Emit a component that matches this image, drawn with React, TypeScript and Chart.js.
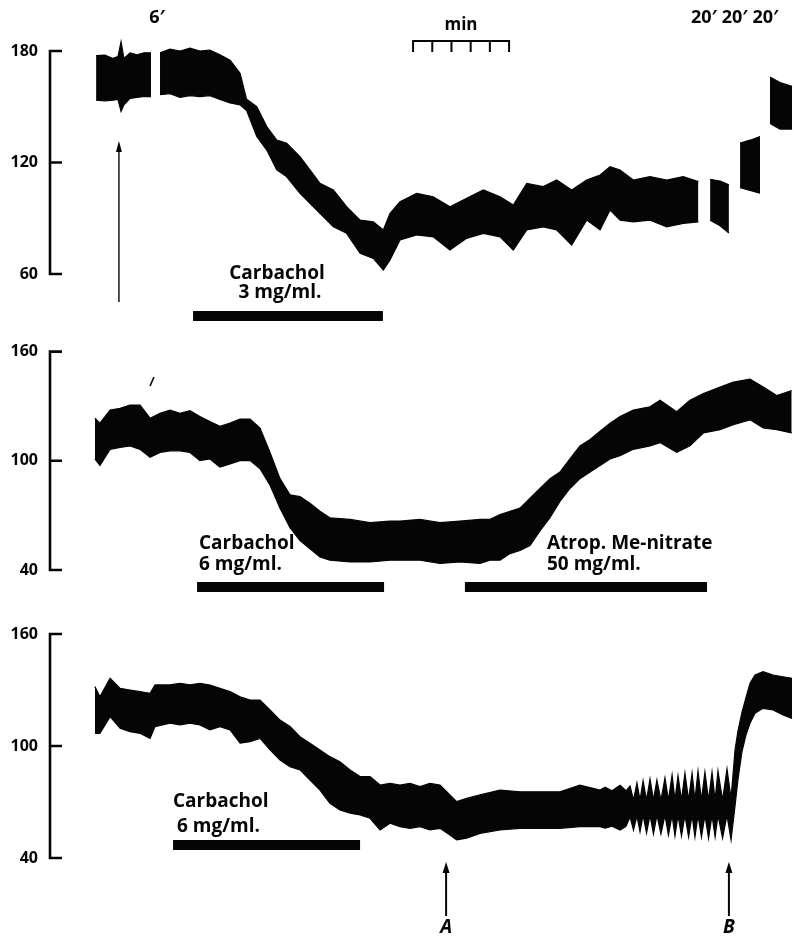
import React, { useEffect, useRef } from "react";
import { Chart, registerables } from "chart.js";

Chart.register(...registerables);

// ---------- time axis (minutes) ----------
const X_MIN = 0;
const X_MAX = 38.75;

// ---------- Panel 1 (null = pen lifted / gap in record) ----------
const P1_TIME = [
  2.4, 2.86, 3.28, 3.54, 3.7, 3.85, 4.17, 4.53, 4.9, 5.26, null,
  5.73, 6.25, 6.77, 7.29, 7.81, 8.33, 8.85, 9.38, 9.9, 10.24, 10.77, 11.29, 11.81, 12.33, 13.02,
  13.54, 14.06, 14.76, 15.45, 16.15, 16.84, 17.36, 17.71, 18.23, 19.1, 19.96, 20.83, 21.7, 22.57,
  23.44, 24.13, 24.83, 25.69, 26.39, 27.17, 27.95, 28.65, 29.17, 29.69, 30.38, 31.25, 32.12, 32.98,
  33.77, null,
  34.38, 34.9, 35.36, null,
  35.94, 36.46, 36.98, null,
  37.5, 38.02, 38.65,
];
const P1_TOP = [
  177.5, 177.8, 176, 177, 185, 176, 179, 178, 179, 179, null,
  179, 181, 180, 181.5, 180, 180.5, 178, 175, 168, 154, 150, 139.3, 132.1, 130.3, 123.1,
  116, 108.8, 105.2, 96.2, 89, 88.1, 83.7, 92.6, 98.9, 103.4, 101.6, 96.2, 100.7, 105.2,
  101.6, 97.1, 108.8, 107, 110.6, 105.2, 110.6, 113.3, 117.7, 116, 110.6, 112.4, 110.6, 112.4,
  109.7, null,
  111, 110, 108, null,
  130.5, 132, 134, null,
  166, 163, 161,
];
const P1_BOTTOM = [
  153.5, 153.2, 153.5, 154, 147.5, 151, 154.5, 155, 155.5, 155.5, null,
  156.5, 157, 155, 156, 155.5, 156, 154, 152, 151, 148, 134, 126.7, 116, 112.3, 103.4,
  98, 92.6, 85.4, 81.9, 71.1, 68.4, 62.1, 67.5, 78.3, 81, 80, 72.9, 79.2, 81.9,
  80, 72.9, 83.7, 85.4, 83.7, 75.6, 89, 83.7, 94.4, 89, 88.1, 89, 85.4, 87.2,
  88.1, null,
  89, 86, 82, null,
  106.5, 105, 103.5, null,
  141, 138, 138,
];
const P1_TICKS = [60, 120, 180];
const P1_DRUG = [7.45, 17.34];
const P1_ARROW = 3.59;
const MIN_BAR = [18.91, 19.91, 20.91, 21.91, 22.91, 23.91];

// ---------- Panel 2 ----------
const P2_TIME = [
  2.34, 2.6, 3.13, 3.65, 4.17, 4.69, 5.21, 5.73, 6.25, 6.77, 7.29, 7.81, 8.33, 8.85, 9.38, 9.9,
  10.42, 10.94, 11.46, 11.98, 12.5, 13.02, 13.54, 14.06, 14.58, 15.63, 16.67, 17.71, 18.23, 19.27,
  20.31, 21.35, 22.4, 22.92, 23.44, 23.96, 24.48, 25.0, 25.52, 26.04, 26.56, 27.08, 27.6, 28.13,
  28.65, 29.17, 29.69, 30.38, 31.25, 31.77, 32.64, 33.33, 34.03, 34.9, 35.59, 36.46, 37.15, 37.85,
  38.63,
];
const P2_TOP = [
  123.4, 120.7, 127.9, 128.8, 130.6, 130.6, 123.4, 126.1, 127.9, 126.1, 127.5, 124.3, 121.6, 118.9, 120.7, 122.9,
  122.9, 118, 104.6, 90.2, 81.3, 80.3, 76.7, 72.3, 68.7, 67.8, 66, 66.9, 66.9, 67.8,
  66, 66.9, 67.8, 67.8, 70.5, 72.3, 74, 79.4, 84.8, 90.2, 93.8, 101, 108.2, 111.7,
  116.2, 120.7, 124.3, 127.9, 129.7, 133.3, 127, 133.3, 136.9, 140.5, 143.2, 144.9, 140.5, 135.9,
  138.6,
];
const P2_BOTTOM = [
  101, 97.4, 106.3, 107.3, 108.2, 106.3, 101.9, 104.6, 105.5, 105.5, 104.6, 100.1, 101, 96.5, 98.3, 100.1,
  100.1, 95.6, 86.6, 74, 63.3, 56.1, 51.7, 47.1, 45.4, 44.4, 44.4, 45.4, 45.4, 45.4,
  43.6, 44.4, 43.6, 45.4, 45.4, 49, 50.7, 53.4, 61.5, 68.7, 77.7, 84.8, 90.2, 93.8,
  97.4, 101, 102.8, 106.3, 108.2, 110, 104.6, 108.2, 115.3, 117.1, 119.8, 122.5, 118, 117.1,
  115.3,
];
const P2_TICKS = [40, 100, 160];
const P2_CARBACHOL = [7.66, 17.4];
const P2_ATROPINE = [21.61, 34.22];

// ---------- Panel 3 ----------
const P3_TIME = [
  2.34, 2.6, 3.13, 3.65, 4.17, 4.69, 5.21, 5.47, 6.25, 6.77, 7.29, 7.81, 8.33, 8.85, 9.38, 9.9,
  10.42, 10.94, 11.46, 11.98, 12.5, 13.02, 13.54, 14.06, 14.58, 15.1, 15.63, 16.15, 16.67, 17.19,
  17.71, 18.23, 18.75, 19.27, 19.79, 20.31, 20.83, 21.18, 21.7, 22.4, 23.44, 24.48, 25.52, 26.56,
  27.6, 28.65, 28.91, 29.27, 29.69, 30.0,
  30.21, 30.39, 30.57, 30.73, 30.89, 31.07, 31.25, 31.43, 31.61, 31.82, 32.03, 32.21, 32.4, 32.55,
  32.71, 32.89, 33.07, 33.26, 33.44, 33.59, 33.75, 33.93, 34.11, 34.3, 34.48, 34.64, 34.79, 35.03,
  35.26, 35.47, 35.68, 35.83, 36.04, 36.25, 36.46, 36.72, 37.14, 37.66, 38.18, 38.65,
];
const P3_TOP = [
  131.8, 126.4, 136.3, 130.9, 130, 129.1, 128.2, 132.7, 132.7, 133.6, 132.7, 133.6, 132.7, 130.9, 129.1, 126.4,
  124.6, 124.6, 119.3, 113.9, 110.4, 105, 101.5, 97.9, 94.3, 91.6, 87.2, 83.6, 83.6, 79.1,
  80, 79.1, 80, 78.2, 80, 79.1, 73.8, 70.2, 72, 73.8, 76.4, 75.5, 75.5, 75.5,
  79.1, 76.4, 78, 76, 79, 76,
  78.6, 71, 80.2, 71, 81.3, 71, 82.3, 71, 81.8, 71, 82.9, 71, 84.5, 71,
  84, 71, 85.5, 71, 85.5, 71, 86.6, 71, 86, 71, 86, 71, 86.6, 71,
  87.7, 72, 98, 108, 118, 126, 133.6, 138, 139.8, 138, 137.1, 136.3,
];
const P3_BOTTOM = [
  106.8, 106.8, 115.7, 109.5, 107.7, 106.8, 104.1, 110.4, 112.2, 111.3, 112.2, 111.3, 108.6, 110.4, 108.6, 101.5,
  102.3, 104.1, 97.9, 92.5, 88.9, 87.2, 81.8, 76.4, 69.3, 65.7, 64, 63.1, 61.3, 55,
  58.6, 56.8, 55.9, 56.8, 55, 55.9, 52.3, 49.7, 50.6, 53.2, 55, 55.9, 55.9, 55.9,
  56.8, 56.8, 56, 57, 55, 57,
  62, 55, 62.5, 54, 63, 53.4, 63, 52.9, 63, 52.9, 63, 52.3, 63, 51.8,
  63, 51.8, 63, 51.2, 63, 51.2, 63, 51.2, 63, 50.6, 63, 51.2, 63, 50.6,
  63, 49.7, 68, 82, 97, 106, 112.2, 117.5, 120.2, 119.3, 116.6, 114.8,
];
const P3_TICKS = [40, 100, 160];
const P3_CARBACHOL = [6.41, 16.15];
const P3_ARROWS = [20.63, 35.36];
const P3_ARROW_LABELS = ["A", "B"];

// ---------- drawing helpers ----------
const FONT = '"Open Sans", "DejaVu Sans", sans-serif';
const INK = "#050505";

function splitSegments(t: (number | null)[], top: (number | null)[], bot: (number | null)[]) {
  const segs: { top: { x: number; y: number }[]; bot: { x: number; y: number }[] }[] = [];
  let cur = { top: [] as { x: number; y: number }[], bot: [] as { x: number; y: number }[] };
  for (let i = 0; i < t.length; i++) {
    if (t[i] === null) {
      if (cur.top.length) segs.push(cur);
      cur = { top: [], bot: [] };
      continue;
    }
    cur.top.push({ x: t[i] as number, y: top[i] as number });
    cur.bot.push({ x: t[i] as number, y: bot[i] as number });
  }
  if (cur.top.length) segs.push(cur);
  return segs;
}

function buildDatasets(t: (number | null)[], top: (number | null)[], bot: (number | null)[]) {
  const style = {
    borderColor: INK,
    backgroundColor: INK,
    borderWidth: 1.2,
    pointRadius: 0,
    tension: 0,
    clip: false as any,
  };
  const ds: any[] = [];
  splitSegments(t, top, bot).forEach((s) => {
    ds.push({ ...style, data: s.top, fill: "+1" });
    ds.push({ ...style, data: s.bot, fill: false });
  });
  return ds;
}

function text(ctx: CanvasRenderingContext2D, s: string, x: number, y: number, align: CanvasTextAlign, size: number, italic = false) {
  ctx.save();
  ctx.fillStyle = INK;
  ctx.font = `${italic ? "italic " : ""}bold ${size}px ${FONT}`;
  ctx.textAlign = align;
  ctx.textBaseline = "middle";
  ctx.fillText(s, x, y);
  ctx.restore();
}

function bar(ctx: CanvasRenderingContext2D, x0: number, x1: number, yc: number, h: number) {
  ctx.save();
  ctx.fillStyle = INK;
  ctx.fillRect(x0, yc - h / 2, x1 - x0, h);
  ctx.restore();
}

function arrow(ctx: CanvasRenderingContext2D, x: number, yTip: number, yEnd: number, w: number, lw: number) {
  ctx.save();
  ctx.strokeStyle = INK;
  ctx.fillStyle = INK;
  ctx.lineWidth = lw;
  ctx.beginPath();
  ctx.moveTo(x, yEnd);
  ctx.lineTo(x, yTip + 8);
  ctx.stroke();
  ctx.beginPath();
  ctx.moveTo(x, yTip);
  ctx.lineTo(x - w / 2, yTip + 11);
  ctx.lineTo(x + w / 2, yTip + 11);
  ctx.closePath();
  ctx.fill();
  ctx.restore();
}

type PanelCfg = {
  top: number;
  height: number;
  axisTop: number; // pixel of the highest tick inside the canvas
  padBottom: number;
  yMin: number;
  yMax: number;
  headroom: number; // extra value range above the top tick so the trace is not clipped
  ticks: number[];
  time: (number | null)[];
  upper: (number | null)[];
  lower: (number | null)[];
  annotate: (ctx: CanvasRenderingContext2D, xp: (t: number) => number) => void;
};

const PANELS: PanelCfg[] = [
  {
    top: 0,
    height: 330,
    axisTop: 51,
    padBottom: 56,
    yMin: 60,
    yMax: 180,
    headroom: 8,
    ticks: P1_TICKS,
    time: P1_TIME,
    upper: P1_TOP,
    lower: P1_BOTTOM,
    annotate: (ctx, xp) => {
      text(ctx, "6\u2032", 157, 18, "center", 18);
      text(ctx, "20\u2032 20\u2032 20\u2032", 691, 18, "left", 18);
      text(ctx, "min", 461, 25, "center", 17);
      ctx.save();
      ctx.strokeStyle = INK;
      ctx.lineWidth = 2;
      ctx.beginPath();
      ctx.moveTo(xp(MIN_BAR[0]), 41);
      ctx.lineTo(xp(MIN_BAR[MIN_BAR.length - 1]), 41);
      MIN_BAR.forEach((m) => {
        ctx.moveTo(xp(m), 40);
        ctx.lineTo(xp(m), 52);
      });
      ctx.stroke();
      ctx.restore();
      arrow(ctx, xp(P1_ARROW), 141, 302, 6, 1.4);
      text(ctx, "Carbachol", 277, 274, "center", 19);
      text(ctx, "3 mg/ml.", 280, 293, "center", 19);
      bar(ctx, xp(P1_DRUG[0]), xp(P1_DRUG[1]), 316, 10);
    },
  },
  {
    top: 330,
    height: 280,
    axisTop: 17,
    padBottom: 40,
    yMin: 40,
    yMax: 160,
    headroom: 0,
    ticks: P2_TICKS,
    time: P2_TIME,
    upper: P2_TOP,
    lower: P2_BOTTOM,
    annotate: (ctx, xp) => {
      ctx.save();
      ctx.strokeStyle = INK;
      ctx.lineWidth = 1.6;
      ctx.beginPath();
      ctx.moveTo(154, 47);
      ctx.lineTo(150, 56);
      ctx.stroke();
      ctx.restore();
      text(ctx, "Carbachol", 199, 214, "left", 19);
      text(ctx, "6 mg/ml.", 199, 235, "left", 19);
      bar(ctx, xp(P2_CARBACHOL[0]), xp(P2_CARBACHOL[1]), 257, 10);
      text(ctx, "Atrop. Me-nitrate", 547, 214, "left", 19);
      text(ctx, "50 mg/ml.", 547, 235, "left", 19);
      bar(ctx, xp(P2_ATROPINE[0]), xp(P2_ATROPINE[1]), 257, 10);
    },
  },
  {
    top: 610,
    height: 326,
    axisTop: 24,
    padBottom: 78,
    yMin: 40,
    yMax: 160,
    headroom: 0,
    ticks: P3_TICKS,
    time: P3_TIME,
    upper: P3_TOP,
    lower: P3_BOTTOM,
    annotate: (ctx, xp) => {
      text(ctx, "Carbachol", 173, 192, "left", 19);
      text(ctx, "6 mg/ml.", 177, 217, "left", 19);
      bar(ctx, xp(P3_CARBACHOL[0]), xp(P3_CARBACHOL[1]), 235, 10);
      P3_ARROWS.forEach((t, i) => {
        arrow(ctx, xp(t), 252, 306, 7, 2);
        text(ctx, P3_ARROW_LABELS[i], xp(t), 318, "center", 19, true);
      });
    },
  },
];

function Panel({ cfg }: { cfg: PanelCfg }) {
  const ref = useRef<HTMLCanvasElement>(null);
  useEffect(() => {
    const canvas = ref.current;
    if (!canvas) return;
    const axisBottom = cfg.height - cfg.padBottom;
    const pxPerUnit = (axisBottom - cfg.axisTop) / (cfg.yMax - cfg.yMin);
    const padTop = cfg.axisTop - cfg.headroom * pxPerUnit;
    const decor = {
      id: "decor",
      afterDraw(chart: any) {
        const ctx: CanvasRenderingContext2D = chart.ctx;
        const ys = chart.scales.y;
        const xs = chart.scales.x;
        const left = chart.chartArea.left;
        ctx.save();
        ctx.strokeStyle = INK;
        ctx.lineWidth = 2.6;
        ctx.lineCap = "butt";
        ctx.beginPath();
        const yTop = ys.getPixelForValue(cfg.yMax);
        const yBot = ys.getPixelForValue(cfg.yMin);
        ctx.moveTo(left, yTop - 1.3);
        ctx.lineTo(left, yBot + 1.3);
        cfg.ticks.forEach((v) => {
          const y = ys.getPixelForValue(v);
          ctx.moveTo(left - 1, y);
          ctx.lineTo(left + 12, y);
        });
        ctx.stroke();
        ctx.restore();
        cfg.annotate(ctx, (t: number) => xs.getPixelForValue(t));
      },
    };
    const chart = new Chart(canvas, {
      type: "line",
      data: { datasets: buildDatasets(cfg.time, cfg.upper, cfg.lower) },
      options: {
        animation: false,
        responsive: false,
        maintainAspectRatio: false,
        events: [],
        layout: { padding: { top: padTop, bottom: cfg.padBottom, left: 0, right: 0 } },
        plugins: { legend: { display: false }, tooltip: { enabled: false } },
        scales: {
          x: { type: "linear", min: X_MIN, max: X_MAX, display: false },
          y: {
            type: "linear",
            position: "left",
            min: cfg.yMin,
            max: cfg.yMax + cfg.headroom,
            afterFit: (s: any) => {
              s.width = 50;
            },
            afterBuildTicks: (s: any) => {
              s.ticks = cfg.ticks.map((v) => ({ value: v }));
            },
            border: { display: false },
            grid: { display: false, drawTicks: false },
            ticks: {
              color: INK,
              padding: 12,
              font: { family: FONT, size: 16, weight: "bold" },
            },
          },
        },
      } as any,
      plugins: [decor],
    });
    return () => chart.destroy();
  }, [cfg]);
  return (
    <canvas
      ref={ref}
      width={794}
      height={cfg.height}
      style={{ position: "absolute", left: 0, top: cfg.top, width: 794, height: cfg.height }}
    />
  );
}

export default function App() {
  useEffect(() => {
    document.body.style.margin = "0";
  }, []);
  return (
    <div style={{ position: "relative", width: 794, height: 936, background: "#fff" }}>
      {PANELS.map((p, i) => (
        <Panel key={i} cfg={p} />
      ))}
    </div>
  );
}
